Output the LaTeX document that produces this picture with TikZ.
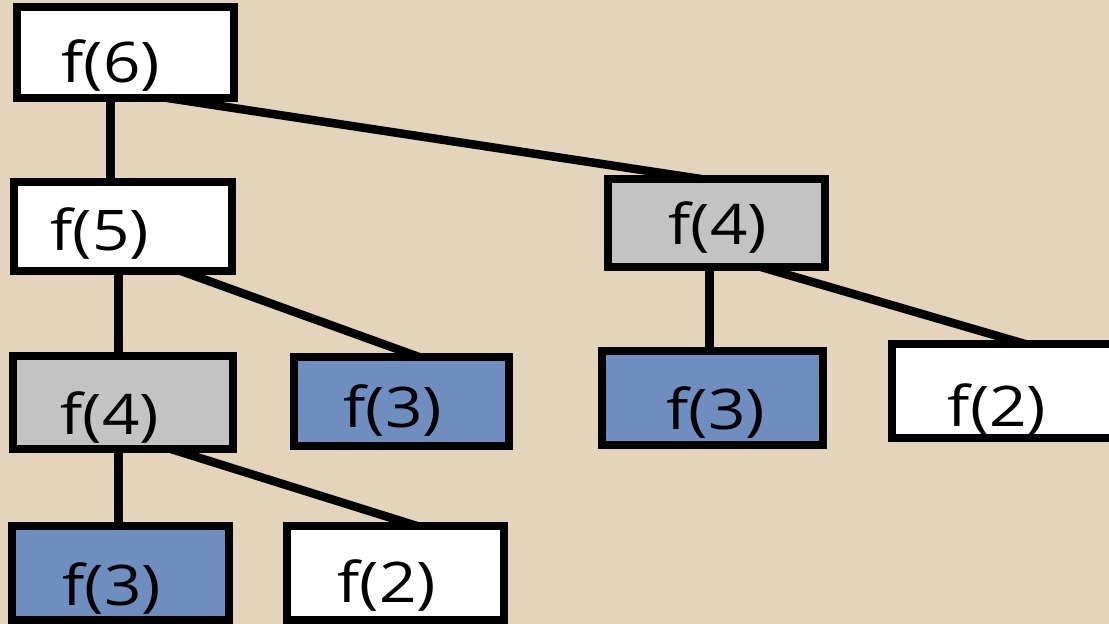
\documentclass[tikz,border=0pt]{standalone}
\usepackage{fontspec}
\usepackage{graphicx}
\setmainfont{Open Sans}
\definecolor{bgc}{HTML}{E5D4BC}
\definecolor{grayc}{HTML}{C3C3C3}
\definecolor{bluec}{HTML}{6D8EBE}
\newcommand\lbl[1]{\scalebox{1.17}[1]{#1}}
\tikzset{
  box/.style={draw=black, line width=8.5pt, rectangle, outer sep=0pt, inner sep=0pt},
  whitebox/.style={box, fill=white},
  graybox/.style={box, fill=grayc},
  bluebox/.style={box, fill=bluec},
  txt/.style={font=\fontsize{56}{62}\selectfont, inner sep=0pt, text=black},
  link/.style={draw=black, line width=8.5pt, line cap=butt}
}
\begin{document}
\begin{tikzpicture}[x=1pt,y=-1pt]
\fill[bgc] (0,0) rectangle (1109,624);
\useasboundingbox (0,0) rectangle (1109,624);
% boxes
\node[whitebox, minimum width=217pt, minimum height=91pt] (f6) at (125.5,52.5) {};
\node[whitebox, minimum width=218pt, minimum height=89pt] (f5) at (123,226.5) {};
\node[graybox, minimum width=217pt, minimum height=88pt] (f4r) at (716.5,223) {};
\node[graybox, minimum width=220pt, minimum height=93pt] (f4l) at (123,402.5) {};
\node[bluebox, minimum width=215pt, minimum height=89pt] (f3m) at (401.5,401.5) {};
\node[bluebox, minimum width=221pt, minimum height=94pt] (f3r) at (712.5,398) {};
\node[whitebox, minimum width=224pt, minimum height=94pt] (f2r) at (1004,391) {};
\node[bluebox, minimum width=217pt, minimum height=94pt] (f3b) at (120.5,573) {};
\node[whitebox, minimum width=217pt, minimum height=94pt] (f2b) at (395.5,573) {};
% connectors
\draw[link] ([xshift=93.5pt]f6.south west) -- ([xshift=96.5pt]f5.north west);
\draw[link] ([xshift=150.5pt]f6.south west) -- ([xshift=93pt]f4r.north west);
\draw[link] ([xshift=104.5pt]f5.south west) -- ([xshift=105.5pt]f4l.north west);
\draw[link] ([xshift=167pt]f5.south west) -- ([xshift=125pt]f3m.north west);
\draw[link] ([xshift=101.5pt]f4r.south west) -- ([xshift=107.5pt]f3r.north west);
\draw[link] ([xshift=153pt]f4r.south west) -- ([xshift=133pt]f2r.north west);
\draw[link] ([xshift=105.5pt]f4l.south west) -- ([xshift=106.5pt]f3b.north west);
\draw[link] ([xshift=158pt]f4l.south west) -- ([xshift=130pt]f2b.north west);
% labels
\node[txt] (t6) at (111,65.5) {\lbl{f(6)}};
\node[txt] (t5) at (100,234) {\lbl{f(5)}};
\node[txt] (t4r) at (718,228) {\lbl{f(4)}};
\node[txt] (t4l) at (110,418) {\lbl{f(4)}};
\node[txt] (t3m) at (393,411) {\lbl{f(3)}};
\node[txt] (t3r) at (716,413) {\lbl{f(3)}};
\node[txt] (t2r) at (997,410) {\lbl{f(2)}};
\node[txt] (t3b) at (112,588) {\lbl{f(3)}};
\node[txt] (t2b) at (387,585) {\lbl{f(2)}};
\end{tikzpicture}
\end{document}
